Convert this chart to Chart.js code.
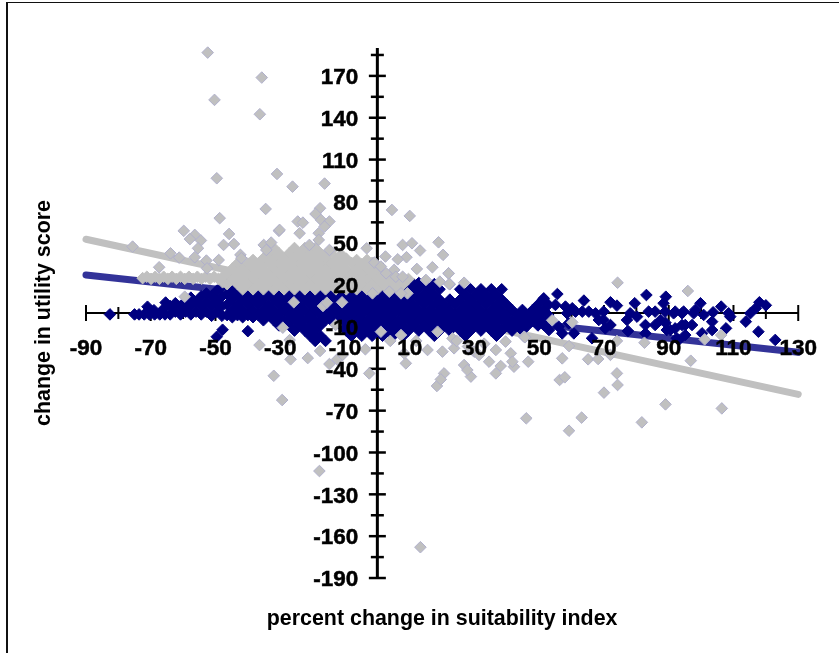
<!DOCTYPE html>
<html>
<head>
<meta charset="utf-8">
<title>utility score vs suitability index</title>
<script src="https://cdn.jsdelivr.net/npm/chart.js@4/dist/chart.umd.min.js"></script>
<style>
  body { margin: 0; background: #fff; overflow: hidden; }
  #frame { position: absolute; left: 6px; top: 2px; width: 840px; height: 660px; border: 2px solid #111; border-top-width: 1.5px; }
  canvas { position: absolute; left: 0; top: 0; }
</style>
</head>
<body>
<div id="frame"></div>
<canvas id="scatter" width="839" height="653"></canvas>
<script>
const xMajorTicks = [-90,-70,-50,-30,-10,10,30,50,70,90,110,130];
const xMinorTicks = [-80,-60,-40,-20,0,20,40,60,80,100,120];
const yMajorTicks = [-190,-160,-130,-100,-70,-40,-10,20,50,80,110,140,170];
const yMinorTicks = [-175,-145,-115,-85,-55,-25,5,35,65,95,125,155,185];

// trend line ends, [x, y]
const navyTrend = [[-90,27.3],[130,-28.2]];
const grayTrend = [[-90,52.9],[130,-58.3]];

// dense part of the blue cloud, each row is [x, y, y, ...]
const navyColumns = [
  [-64,-1,5],[-62.4,1,7],[-60.8,-1,5],[-59.2,1,8],[-57.6,-1,5,11],[-56,1,8],[-54.4,-1,5,12],[-52.8,1,8,14],
  [-51.2,-2,5,12],[-49.6,1,8.5,16],[-48,-2,5,12,19],
  [-46.4,-1.5,5.9,13.3,20.7],[-44.8,-3,2.2,9.6,17],[-43.2,-1.5,5.9,13.3,20.7],[-41.6,-3,2.2,9.6,17],
  [-40,-1.5,5.9,13.3,20.7],[-38.4,-3,2.2,9.6,17],[-36.8,-1.5,5.9,13.3,20.7],[-35.2,-5.2,2.2,9.6,17],
  [-33.6,-1.5,5.9,13.3,20.7],[-32,-5.2,2.2,9.6,17],[-30.4,-8.9,-1.5,5.9,13.3,20.7],[-28.8,-5.2,2.2,9.6,17],
  [-27.2,-8.9,-1.5,5.9,13.3,20.7],[-25.6,-12.6,-5.2,2.2,9.6,17],[-24,-8.9,-1.5,5.9,13.3,20.7],
  [-22.4,-12.6,-5.2,2.2,9.6,17],[-20.8,-16.3,-8.9,-1.5,5.9,13.3,20.7],[-19.2,-20,-12.6,-5.2,2.2,9.6,17],
  [-17.6,-16.3,-8.9,-1.5,5.9,13.3,20.7],[-16,-20,-5.2,2.2,9.6,17],[-14.4,-5,-1.5,5.9,13.3,20.7],
  [-12.8,-5.2,2.2,9.6,17],[-11.2,-8.9,-1.5,5.9,13.3,20.7],[-9.6,-12.6,-5.2,2.2,9.6,17],
  [-8,-16.3,-8.9,-1.5,5.9,13.3,20.7],[-6.4,-12.6,-5.2,2.2,9.6,17],[-4.8,-16.3,-8.9,-1.5,5.9,13.3,20.7],
  [-3.2,-12.6,-5.2,2.2,9.6,17],[-1.6,-16.3,-8.9,-1.5,5.9,13.3,20.7],[0,-12.6,-5.2,2.2,9.6,17],
  [1.6,-16.3,-8.9,-1.5,5.9,13.3,20.7],[3.2,-12.6,-5.2,2.2,9.6,17],[4.8,-16.3,-8.9,-1.5,5.9,13.3,20.7],
  [6.4,-12.6,-5.2,2.2,9.6,17],[8,-16.3,-8.9,-1.5,5.9,13.3,20.7],[9.6,-12.6,-5.2,2.2,9.6,17],
  [11.2,-8.9,-1.5,5.9,13.3,20.7],[12.8,-12.6,-5.2,2.2,9.6,17,21.5],[14.4,-8.9,-1.5,5.9,13.3,20.7],
  [16,-12.6,-5.2,2.2,9.6,17],[17.6,-16.3,-8.9,-1.5,5.9,13.3,20.7],[19.2,-12.6,-5.2,2.2,9.6,17],
  [20.8,-8.9,-1.5,5.9],[22.4,-12.6,-5.2,2.2,9.6],[24,-8.9,-1.5,5.9],[25.6,-12.6,-5.2,2.2,9.6,17],
  [27.2,-16.3,-8.9,-1.5,5.9,13.3],[28.8,-12.6,-5.2,2.2,9.6,17],[30.4,-8.9,-1.5,5.9,13.3],
  [32,-12.6,-5.2,2.2,9.6,17],[33.6,-8.9,-1.5,5.9,13.3],[35.2,-12.6,-5.2,2.2,9.6,17],
  [36.8,-16.3,-8.9,-1.5,5.9,13.3],[38.4,-12.6,-5.2,2.2,9.6,17],[40,-8.9,-1.5,5.9],
  [41.6,-12.6,-5.2,2.2],[43.2,-8.9,-1.5],[44.8,-12.6,-5.2,2.2],[46.4,-8.9,-1.5],
  [48,-5.2,2.2],[49.6,-8.9,-1.5,5.9],[51.2,-5.2,2.2,9.6],[52.8,-1.5,5.9]
];

// thin blue tail and single blue points
const navyPoints = [
  [-82.6,-1],[-75,-1],[-73.6,-1],[-72,-1],[-71,4.5],[-70.4,-1],[-68.8,-1],[-67.2,-1],[-65.6,-1],[-65.4,7.5],
  [-69,2],[-66,3],[-49.6,-17],[-47.8,-12],[-40,-13],
  [55.6,13.6],[51.4,10.5],[55,5.8],[58.1,4.6],[60.2,3.4],[63.8,8.9],[58.6,-0.2],[61.2,1],[63.3,1],[65.3,1],
  [67.4,-0.2],[69.9,1],[72,7.7],[74,5.3],[69.9,-5],[72,-8.6],[70.4,-11],[68.4,-5],[66.3,-18.1],[77.4,-12.9],
  [79.5,7],[78.1,-0.2],[77.1,-5],[80.2,-2.6],[83.1,12.9],[89.1,11.7],[88.4,7],[83.8,1],[85.8,1],[82.8,-8.6],
  [85.8,-8.6],[82.8,-14.6],[88.9,1],[89.4,-12.2],[92,-11],[92,1],[94.6,1],[92.5,-18.1],[95.1,-8.6],
  [56,-9.8],[53,-12.2],[51.4,-8.6],[57.1,-14.6],[60.7,-14.6],[59.1,-7.4],[87.5,-5],[89,-7],
  [99.8,7],[106.2,4.6],[91.5,-0.2],[94.1,-0.2],[97.7,-0.2],[100.8,-1.4],[103.7,0.5],[108.5,-0.2],[109,-2.6],
  [118,7.7],[115.2,-0.2],[116.9,3.4],[113.8,-6.2],[117.7,-13.4],[122.9,-19.3],[107.7,-11],[103.4,-6.2],
  [103.4,-12.2],[100.3,-14.6],[95.1,-15.8],[94.1,-8.6],[97.2,-8.6],[90.5,-12.2],[93.1,-19.3],[98.2,2.2],[120,5.5]
];

// dense part of the grey cloud, same layout as navyColumns
const grayColumns = [
  [-72.5,25],[-71.2,26],[-69.9,24.5],[-68.6,26],[-67.3,24.5],[-66,26],[-64.7,24.5],[-63.4,26],[-62.1,24.5],[-60.8,26],
  [-59.5,24.5],[-58.2,26],[-56.9,24.5],[-55.6,26],[-54.3,24.5],[-53,26],[-51.7,24.5],[-50.4,26],[-49.1,24.5],[-47.8,22,26],
  [-46.4,20.7,28.1],[-44.8,24.4,31.8],[-43.2,20.7,28.1,35.5],[-41.6,17,24.4,31.8],[-40,20.7,28.1,35.5],
  [-38.4,17,24.4,31.8,38],[-36.8,20.7,28.1,35.5],[-35.2,17,24.4,31.8,39.2],[-33.6,20.7,28.1,35.5,42.9],
  [-32,17,24.4,31.8,39.2,46.6],[-30.4,20.7,28.1,35.5,42.9],[-28.8,17,24.4,31.8,39.2],[-27.2,20.7,28.1,35.5,42.9],
  [-25.6,17,24.4,31.8,39.2,46.6],[-24,20.7,28.1,35.5,42.9],[-22.4,17,24.4,31.8,39.2,46.6],[-20.8,20.7,28.1,35.5,42.9],
  [-19.2,17,24.4,31.8,39.2,46.6],[-17.6,20.7,28.1,35.5,42.9],[-16,17,24.4,31.8,39.2],[-14.4,20.7,28.1,35.5,44],
  [-12.8,17,24.4,31.8,39.2],[-11.2,20.7,28.1,35.5,42],[-9.6,17,24.4,31.8,39],[-8,20.7,28.1,36],[-6.4,17,24.4,31.8,38],
  [-4.8,20.7,28.1,35],[-3.2,17,24.4,31.8,38],[-1.6,20.7,28.1,36],[0,17,24.4,31.8],[1.6,20.7,28.1],[3.2,17,24.4],
  [4.8,20.7,28.1],[6.4,17,24.4],[8,20.7],[9.6,24.4]
];

// single grey points
const grayPoints = [
  [-52.4,186.7],[-35.7,168.8],[-50.3,152.8],[-36.3,142.5],[-49.6,96.6],[-31,99.7],[-26.2,90.6],[-16.3,92.8],
  [4.5,73.9],[10,69.6],[-48.7,68],[-34.5,74.6],
  [-59.8,58.9],[-45.8,56.7],[-30.4,58.9],[-56.4,56],[-57.9,53],[-54.5,52],[-47.5,48.8],[-44.3,49.5],[-75.6,47.6],
  [-55.4,46.4],[-63.9,42.8],[-61.2,39.7],[-56.4,40],[-52.8,37.6],[-49,38],[-42.3,41.7],[-67.4,32.8],[-52.6,32],
  [-35.1,48.8],[-32.8,50.5],[-34.3,45.2],[-42,39.3],
  [-17.7,75.1],[-19.1,71],[-24.6,65.6],[-23,64.8],[-17.4,66.7],[-14.8,65.6],[-16.3,62],[-24,57.2],[-18.1,57.2],
  [-18.1,52.4],[-30.2,59.6],[-21,48.8],[-14.8,45.2],[-3.3,46.4],[7.8,48.8],[10.7,50],[13.2,44.8],[18.9,50.7],
  [20.3,41.7],[9,40],[6.3,38.5],[2.5,40.5],[-0.9,36.2],[12.2,31.6],[17,32.8],[22,28.5],[15,23.7],[19.3,22.5],
  [22.4,20.6],[1.1,33.3],[5.2,30.9],[2.7,28.5],[5.7,26],[7.8,26],[9.3,14.1],[7.3,14.1],[-1.5,14.1],[3.7,15.3],
  [-59.5,11.7],[-25.8,7.7],[-16.8,5],[-15.6,7.4],[-10.9,7.7],[-12.9,-8.6],[-29.2,-10.5],[1.1,-13.4],[7.3,-15.8],
  [-36.4,-23],[-27.1,-19.4],[-26.8,-33.2],[-21.5,-32.3],[-17.7,-27.2],[-14.8,-36.6],[-12.4,-33.2],[-10.7,-30],
  [-3.7,-26],[-2.5,-43.3],[-32,-45],[-29.4,-62.4],[-17.9,-113.3],[13.3,-167.9],
  [18.6,-13.4],[15.5,-26.5],[20.1,-27.7],[8.8,-36.1],[8.3,-28.9],[23.2,-18.2],[23.7,-25.3],[26.8,-37.3],
  [28.9,-45.6],[27.8,-40.9],[20.6,-43.3],[18.4,-52.3],[19.6,-47.6],[36.6,-26.5],[34.5,-34.9],[38.1,-38],
  [36.6,-43.3],[41.2,-28.9],[42.2,-38.5],[41.7,-34.9],[46.6,-34.9],[39.6,-20.5],[45.3,-17],[29.9,-27.7],[31.4,-30.1],
  [54,-5.2],[60.2,-6.7],[45.6,-17.4],[59.2,-23.7],[57.1,-32.5],[65.1,-33.2],[68.2,-33],[72,-30],[74,-20],[82.5,-21.3],
  [101.1,-18.9],[106.2,-15.8],[96.8,-34.2],[74,-43.3],[74.2,-51.6],[70,-57.1],[89,-65.5],[106.4,-68.4],[56.3,-48],
  [57.9,-46.1],[46,-75.5],[63.1,-75],[81.7,-78.4],[59.2,-84.4],[74.2,21.7],[95.9,15.8],[22,28.4],[22.2,20.8],[26.8,21.7],
  [24.5,-20],[33,-22],[28,-24],[12,-20],[4,-20]
];

const toXY = (p) => ({ x: p[0], y: p[1] });
const fromColumns = (rows) => rows.flatMap((r) => r.slice(1).map((y) => ({ x: r[0], y: y })));

const navyData = fromColumns(navyColumns).concat(navyPoints.map(toXY));

// y axis line and all tick marks sit under the points, major and minor differ in length
const axisTicks = {
  id: 'axisTicks',
  beforeDatasetsDraw(chart) {
    const { ctx, scales: { x, y } } = chart;
    const x0 = x.getPixelForValue(0);
    const y0 = y.getPixelForValue(0);
    ctx.save();
    ctx.strokeStyle = '#000';
    ctx.lineWidth = 2;
    const vMark = (v, len) => {
      const px = x.getPixelForValue(v);
      ctx.beginPath(); ctx.moveTo(px, y0 - len); ctx.lineTo(px, y0 + len); ctx.stroke();
    };
    const hMark = (v, len) => {
      const py = y.getPixelForValue(v);
      ctx.beginPath(); ctx.moveTo(x0 - len, py); ctx.lineTo(x0 + len, py); ctx.stroke();
    };
    xMajorTicks.forEach((v) => vMark(v, 8));
    xMinorTicks.forEach((v) => vMark(v, 6));
    ctx.lineWidth = 2.5;
    yMajorTicks.forEach((v) => hMark(v, 8.5));
    yMinorTicks.forEach((v) => hMark(v, 6.5));
    ctx.lineWidth = 3;
    ctx.beginPath(); ctx.moveTo(x0, y.top); ctx.lineTo(x0, y.bottom); ctx.stroke();
    ctx.restore();
  }
};

const tickFont = { family: '"Liberation Sans", Arial, sans-serif', size: 22.5, weight: 'bold' };
const titleFont = { family: '"Liberation Sans", Arial, sans-serif', size: 21.4, weight: 'bold', lineHeight: 1.2 };
const marker = { pointStyle: 'rectRot', pointRadius: 5.8, borderWidth: 1, clip: false };
const trend = { type: 'line', borderWidth: 7, borderCapStyle: 'round', pointRadius: 0, clip: false };

new Chart(document.getElementById('scatter').getContext('2d'), {
  type: 'scatter',
  data: {
    datasets: [
      { ...marker, data: grayPoints.map(toXY), order: 0, backgroundColor: '#c0c0c0', borderColor: '#b0b0cc' },
      { ...marker, data: fromColumns(grayColumns), order: 1, backgroundColor: '#c0c0c0', borderColor: '#c0c0c0' },
      { ...marker, data: navyData, order: 2, backgroundColor: '#000080', borderColor: '#000080' },
      { ...trend, data: navyTrend.map(toXY), order: 3, borderColor: '#333399' },
      { ...trend, data: grayTrend.map(toXY), order: 4, borderColor: '#c0c0c0' }
    ]
  },
  plugins: [axisTicks],
  options: {
    responsive: false,
    animation: false,
    layout: { padding: { top: 48, right: 39, left: 0, bottom: 0 } },
    plugins: {
      legend: { display: false },
      tooltip: { enabled: false },
      title: {
        display: true,
        position: 'bottom',
        fullSize: false,
        text: 'percent change in suitability index',
        color: '#000',
        font: titleFont,
        padding: { top: 28, bottom: 21.3 }
      },
      subtitle: {
        display: true,
        position: 'left',
        fullSize: false,
        text: 'change in utility score',
        color: '#000',
        font: titleFont,
        padding: { top: 31.7, bottom: 28.6 }
      }
    },
    scales: {
      x: {
        type: 'linear',
        min: -90,
        max: 130,
        position: { y: 0 },
        afterBuildTicks: (scale) => { scale.ticks = xMajorTicks.map((v) => ({ value: v })); },
        grid: { display: false, drawTicks: false },
        border: { display: true, color: '#000', width: 2, z: 0 },
        ticks: { z: 1, autoSkip: false, maxRotation: 0, padding: 22, color: '#000', font: tickFont, textStrokeColor: '#000', textStrokeWidth: 0.5 }
      },
      y: {
        type: 'linear',
        min: -190,
        max: 190,
        // labels hang from this position, the axis line itself is drawn at x = 0 by axisTicks
        position: { x: -5.9 },
        afterBuildTicks: (scale) => { scale.ticks = yMajorTicks.map((v) => ({ value: v })); },
        grid: { display: false, drawTicks: false },
        border: { display: false },
        ticks: { z: 1, autoSkip: false, labelOffset: 2, color: '#000', font: tickFont, textStrokeColor: '#000', textStrokeWidth: 0.5 }
      }
    }
  }
});
</script>
</body>
</html>
